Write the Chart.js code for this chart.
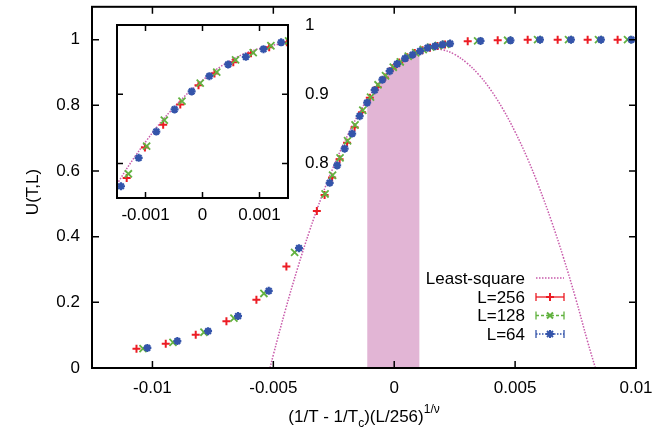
<!DOCTYPE html>
<html lang="en">
<head>
<meta charset="UTF-8" />
<title>U(T,L) scaling</title>
<script src="https://cdn.jsdelivr.net/npm/chart.js"></script>
<style>
  body { margin: 0; background: #fff; }
  #wrap { position: relative; width: 654px; height: 433px; }
  #wrap canvas { position: absolute; left: 0; top: 0; }
  #inset { pointer-events: none; }
</style>
</head>
<body>
<div id="wrap">
  <canvas id="main" width="654" height="433"></canvas>
  <canvas id="inset" width="654" height="433"></canvas>
</div>
<script>
// L=256
const x256 = [-0.01066, -0.00945, -0.00821, -0.00694, -0.0057, -0.00446, -0.0032,
  -0.00288, -0.00257, -0.00226, -0.00195, -0.00164, -0.00133, -0.00101, -0.00069, -0.00039,
  -0.00007, 0.00021, 0.00054, 0.00085, 0.00117, 0.00148, 0.00179, 0.0021,
  0.00304, 0.00428, 0.00552, 0.00676, 0.008, 0.00924];
const u256 = [0.059, 0.074, 0.1015, 0.142, 0.208, 0.309, 0.478,
  0.527, 0.58, 0.636, 0.686, 0.733, 0.779, 0.823, 0.856, 0.885,
  0.913, 0.93, 0.946, 0.959, 0.968, 0.975, 0.981, 0.985,
  0.995, 0.998, 1.0, 1.0, 1.0, 1.0];
// L=128
const x128 = [-0.01039, -0.00915, -0.00787, -0.00663, -0.00539, -0.00412,
  -0.00286, -0.00255, -0.00224, -0.00193, -0.00162, -0.0013, -0.00098, -0.00067, -0.00036,
  -0.00004, 0.00025, 0.00058, 0.00089, 0.0012, 0.00151, 0.00182, 0.00213,
  0.00345, 0.00469, 0.00593, 0.00721, 0.00845, 0.00965];
const u128 = [0.059, 0.078, 0.109, 0.152, 0.227, 0.352,
  0.53, 0.587, 0.64, 0.692, 0.74, 0.785, 0.825, 0.8625, 0.89,
  0.916, 0.932, 0.9495, 0.96, 0.97, 0.977, 0.982, 0.986,
  0.996, 0.998, 1.0, 1.0, 1.0, 1.0];
// L=64
const x64 = [-0.01021, -0.00897, -0.0077, -0.00646, -0.00519, -0.00394,
  -0.00267, -0.00236, -0.00205, -0.00174, -0.00143, -0.00112, -0.00081, -0.00049, -0.00019,
  0.00012, 0.00045, 0.00076, 0.00107, 0.00138, 0.00169, 0.002, 0.00231,
  0.00357, 0.00481, 0.00603, 0.00731, 0.00855, 0.00981];
const u64 = [0.061, 0.082, 0.112, 0.158, 0.235, 0.365,
  0.564, 0.617, 0.668, 0.714, 0.767, 0.808, 0.846, 0.878, 0.904,
  0.926, 0.943, 0.954, 0.965, 0.975, 0.98, 0.985, 0.988,
  0.996, 0.998, 1.0, 1.0, 1.0, 1.0];
// least-square curve
const fitX = [-0.00514, -0.005, -0.0045, -0.004, -0.0035, -0.003, -0.0025, -0.002, -0.0015,
  -0.001, -0.0005, 0, 0.0005, 0.001, 0.0015, 0.002, 0.0025, 0.003, 0.0035, 0.004,
  0.0045, 0.005, 0.0055, 0.006, 0.0065, 0.007, 0.0075, 0.008, 0.00832];
const fitU = [0, 0.04, 0.177, 0.303, 0.418, 0.522, 0.615, 0.698, 0.77,
  0.831, 0.881, 0.92, 0.949, 0.966, 0.973, 0.969, 0.955, 0.929, 0.893, 0.846,
  0.788, 0.719, 0.64, 0.549, 0.448, 0.336, 0.213, 0.08, 0];
// shaded window
const bandX = [-0.00112, -0.0008, -0.0005, -0.0002, 0.0001, 0.0004, 0.0007, 0.00105];
const bandU = [0.805, 0.845, 0.877, 0.903, 0.925, 0.943, 0.957, 0.97];

const xTicks = [-0.01, -0.005, 0, 0.005, 0.01];
const yTicks = [0, 0.2, 0.4, 0.6, 0.8, 1];
const insetXTicks = [-0.001, 0, 0.001];
const insetYTicks = [0.8, 0.9, 1];

const FONT = "'Liberation Sans', Arial, Helvetica, sans-serif";
const RED = 'rgb(236,28,36)', GREEN = 'rgb(98,178,64)', BLUE = 'rgb(52,84,170)';
const PINK = 'rgb(200,90,170)', BAND = 'rgb(226,181,213)';

const pts = (xs, ys) => xs.map((x, i) => ({ x: x, y: ys[i] }));

function makeDatasets(withBand) {
  const ds = [
    { data: pts(fitX, fitU), showLine: true, borderColor: PINK, borderWidth: 1.5,
      borderDash: [1.5, 1.5], pointRadius: 0, tension: 0.4, order: 3 },
    { data: pts(x256, u256), pointStyle: 'cross', pointRadius: 4, pointBorderWidth: 2,
      borderColor: RED, backgroundColor: RED, order: 2 },
    { data: pts(x128, u128), pointStyle: 'crossRot', pointRadius: 5, pointBorderWidth: 1.8,
      borderColor: GREEN, backgroundColor: GREEN, order: 1 },
    { data: pts(x64, u64), pointStyle: 'star', pointRadius: 4, pointBorderWidth: 2.2,
      borderColor: BLUE, backgroundColor: BLUE, order: 0 }
  ];
  if (withBand) {
    ds.unshift({ data: pts(bandX, bandU), showLine: true, fill: 'origin', borderWidth: 0,
      borderColor: BAND, backgroundColor: BAND, pointRadius: 0, order: 4 });
  }
  return ds;
}

// drop the automatic label overflow padding so the plot box sits where we put it
function noPad(s) {
  s.paddingLeft = 0; s.paddingRight = 0; s.paddingTop = 0; s.paddingBottom = 0;
}

function drawFrame(chart, xt, yt, len) {
  const { ctx, chartArea: a, scales } = chart;
  ctx.save();
  ctx.strokeStyle = '#000';
  ctx.lineWidth = 1.5;
  ctx.beginPath();
  xt.forEach(v => {
    const p = scales.x.getPixelForValue(v);
    ctx.moveTo(p, a.bottom); ctx.lineTo(p, a.bottom - len);
    ctx.moveTo(p, a.top); ctx.lineTo(p, a.top + len);
  });
  yt.forEach(v => {
    const p = scales.y.getPixelForValue(v);
    ctx.moveTo(a.left, p); ctx.lineTo(a.left + len, p);
    ctx.moveTo(a.right, p); ctx.lineTo(a.right - len, p);
  });
  ctx.stroke();
  ctx.lineWidth = 2;
  ctx.strokeRect(a.left, a.top, a.right - a.left, a.bottom - a.top);
  ctx.restore();
}

function marker(ctx, style, x, y, r) {
  ctx.beginPath();
  if (style !== 'x') {
    ctx.moveTo(x - r, y); ctx.lineTo(x + r, y);
    ctx.moveTo(x, y - r); ctx.lineTo(x, y + r);
  }
  if (style !== '+') {
    const d = r * 0.75;
    ctx.moveTo(x - d, y - d); ctx.lineTo(x + d, y + d);
    ctx.moveTo(x - d, y + d); ctx.lineTo(x + d, y - d);
  }
  ctx.stroke();
}

const mainDecor = {
  id: 'mainDecor',
  afterDraw(chart) {
    const { ctx, chartArea: a } = chart;
    drawFrame(chart, xTicks, yTicks, 7);
    ctx.save();
    ctx.fillStyle = '#000';
    // x title with subscript and superscript
    const base = '17px ' + FONT, small = '12px ' + FONT;
    const parts = [['(1/T - 1/T', base, 0], ['c', small, 5], [')(L/256)', base, 0], ['1/\u03bd', small, -9]];
    let w = 0;
    parts.forEach(p => { ctx.font = p[1]; w += ctx.measureText(p[0]).width; });
    let x = (a.left + a.right) / 2 - w / 2;
    const yb = 422;
    ctx.textBaseline = 'alphabetic';
    ctx.textAlign = 'left';
    parts.forEach(p => { ctx.font = p[1]; ctx.fillText(p[0], x, yb + p[2]); x += ctx.measureText(p[0]).width; });
    // y title
    ctx.font = base;
    ctx.translate(33, 192);
    ctx.rotate(-Math.PI / 2);
    ctx.textAlign = 'center';
    ctx.textBaseline = 'middle';
    ctx.fillText('U(T,L)', 0, 0);
    ctx.restore();

    // legend
    const rows = [
      ['Least-square', PINK, [1.5, 1.5], null],
      ['L=256', RED, [], '+'],
      ['L=128', GREEN, [3, 2], 'x'],
      ['L=64', BLUE, [1.5, 1.5], '*']
    ];
    const rowY = [278, 297, 315.5, 334];
    const x1 = 536, x2 = 564;
    ctx.save();
    ctx.font = '17px ' + FONT;
    ctx.textAlign = 'right';
    ctx.textBaseline = 'middle';
    rows.forEach((r, i) => {
      const y = rowY[i];
      ctx.fillStyle = '#000';
      ctx.fillText(r[0], 525, y + 1);
      ctx.strokeStyle = r[1];
      ctx.lineWidth = 1.3;
      ctx.setLineDash(r[2]);
      ctx.beginPath(); ctx.moveTo(x1, y); ctx.lineTo(x2, y); ctx.stroke();
      ctx.setLineDash([]);
      if (r[3]) {
        ctx.beginPath();
        ctx.moveTo(x1, y - 4); ctx.lineTo(x1, y + 4);
        ctx.moveTo(x2, y - 4); ctx.lineTo(x2, y + 4);
        ctx.stroke();
        ctx.lineWidth = 2;
        marker(ctx, r[3], (x1 + x2) / 2, y, 4);
      }
    });
    ctx.restore();
  }
};

const tickFont = { family: FONT, size: 17 };

new Chart(document.getElementById('main'), {
  type: 'scatter',
  data: { datasets: makeDatasets(true) },
  options: {
    responsive: false,
    animation: false,
    layout: { padding: { left: 0, right: 18, top: 2, bottom: 0 } },
    plugins: { legend: { display: false }, tooltip: { enabled: false } },
    scales: {
      x: {
        type: 'linear', min: -0.0125, max: 0.01,
        grid: { display: false, drawTicks: false }, border: { display: false },
        afterBuildTicks: s => { s.ticks = xTicks.map(v => ({ value: v })); },
        afterFit: s => { s.height = 65; noPad(s); },
        ticks: { font: tickFont, color: '#000', padding: 10, maxRotation: 0, callback: v => String(v) }
      },
      y: {
        type: 'linear', min: 0, max: 1.1,
        grid: { display: false, drawTicks: false }, border: { display: false },
        afterBuildTicks: s => { s.ticks = yTicks.map(v => ({ value: v })); },
        afterFit: s => { s.width = 92; noPad(s); },
        ticks: { font: tickFont, color: '#000', padding: 12, callback: v => String(v) }
      }
    }
  },
  plugins: [mainDecor]
});

const insetDecor = {
  id: 'insetDecor',
  beforeDatasetsDraw(chart) {
    const { ctx, chartArea: a } = chart;
    ctx.save();
    ctx.fillStyle = '#fff';
    ctx.fillRect(a.left, a.top, a.right - a.left, a.bottom - a.top);
    ctx.restore();
  },
  afterDraw(chart) {
    drawFrame(chart, insetXTicks, insetYTicks, 6);
  }
};

new Chart(document.getElementById('inset'), {
  type: 'scatter',
  data: { datasets: makeDatasets(false) },
  options: {
    responsive: false,
    animation: false,
    layout: { padding: { left: 117, right: 0, top: 25, bottom: 0 } },
    plugins: { legend: { display: false }, tooltip: { enabled: false } },
    scales: {
      x: {
        type: 'linear', min: -0.0015, max: 0.0015,
        grid: { display: false, drawTicks: false }, border: { display: false },
        afterBuildTicks: s => { s.ticks = insetXTicks.map(v => ({ value: v })); },
        afterFit: s => { s.height = 433 - 198; noPad(s); },
        ticks: { font: tickFont, color: '#000', padding: 7, maxRotation: 0, callback: v => String(v) }
      },
      y: {
        type: 'linear', position: 'right', min: 0.75, max: 1.0,
        grid: { display: false, drawTicks: false }, border: { display: false },
        afterBuildTicks: s => { s.ticks = insetYTicks.map(v => ({ value: v })); },
        afterFit: s => { s.width = 654 - 288; noPad(s); },
        ticks: { font: tickFont, color: '#000', padding: 17, callback: v => String(v) }
      }
    }
  },
  plugins: [insetDecor]
});
</script>
</body>
</html>
